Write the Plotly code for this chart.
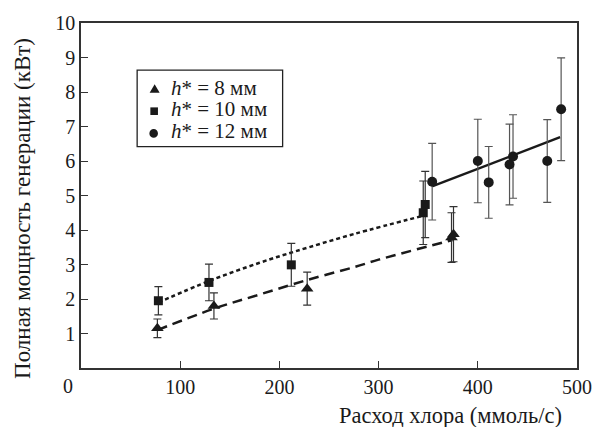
import plotly.graph_objects as go

# Measured points: chlorine flow (mmol/s) vs total generated power (kW)
tri_x = [77, 134, 228, 373.5, 375.5]
tri_y = [1.15, 1.8, 2.3, 3.78, 3.88]
tri_err = [0.27, 0.38, 0.48, 0.72, 0.8]

sq_x = [78, 129, 212, 345, 347]
sq_y = [1.95, 2.48, 2.99, 4.5, 4.74]
sq_err = [0.41, 0.53, 0.62, 0.92, 0.96]

circ_x = [354, 400, 411, 432, 435.5, 470, 484]
circ_y = [5.4, 6.0, 5.38, 5.9, 6.13, 6.0, 7.5]
circ_err = [1.11, 1.21, 1.04, 1.17, 1.21, 1.2, 1.49]

# Fitted trend curves
tri_fit_x = [77, 134, 180, 228, 276, 300, 374.5]
tri_fit_y = [1.1, 1.72, 2.13, 2.55, 2.93, 3.14, 3.71]

sq_fit_x = [78, 129, 180, 216, 276, 346]
sq_fit_y = [1.9, 2.52, 3.05, 3.38, 3.89, 4.42]

circ_fit_x = [354.5, 483]
circ_fit_y = [5.27, 6.69]

x_ticks = [100, 200, 300, 400, 500]
y_ticks = [1, 2, 3, 4, 5, 6, 7, 8, 9, 10]

legend_names = ["<i>h</i>* = 8 мм",
                "<i>h</i>* = 10 мм",
                "<i>h</i>* = 12 мм"]

FONT = "Liberation Serif, Times New Roman, DejaVu Serif, serif"
INK = "#1a1a1a"

fig = go.Figure()

# fit lines
fig.add_trace(go.Scatter(x=tri_fit_x, y=tri_fit_y, mode="lines", showlegend=False,
                         line=dict(color=INK, width=2.5, dash="10px,6px", shape="spline")))
fig.add_trace(go.Scatter(x=sq_fit_x, y=sq_fit_y, mode="lines", showlegend=False,
                         line=dict(color=INK, width=2.5, dash="4px,3px", shape="spline")))
fig.add_trace(go.Scatter(x=circ_fit_x, y=circ_fit_y, mode="lines", showlegend=False,
                         line=dict(color=INK, width=2.5)))

# data points with error bars
fig.add_trace(go.Scatter(x=tri_x, y=tri_y, mode="markers", name=legend_names[0],
                         showlegend=False,
                         marker=dict(symbol="triangle-up", size=11, color=INK),
                         error_y=dict(type="data", array=tri_err, color="#333",
                                      thickness=1.2, width=4)))
fig.add_trace(go.Scatter(x=sq_x, y=sq_y, mode="markers", name=legend_names[1],
                         showlegend=False,
                         marker=dict(symbol="square", size=9, color=INK),
                         error_y=dict(type="data", array=sq_err, color="#333",
                                      thickness=1.2, width=4)))
fig.add_trace(go.Scatter(x=circ_x, y=circ_y, mode="markers", name=legend_names[2],
                         showlegend=False,
                         marker=dict(symbol="circle", size=10, color=INK),
                         error_y=dict(type="data", array=circ_err, color="#555",
                                      thickness=1.2, width=4)))

axis_common = dict(showgrid=False, zeroline=False, showline=True, mirror=True,
                   linecolor="#333", linewidth=1.5, ticks="inside", ticklen=7,
                   tickwidth=1.2, tickcolor="#333",
                   tickfont=dict(family=FONT, size=20, color=INK))

# Compact legend box: frame, key symbols (pixel-sized) and labels
leg_left, leg_right, leg_bottom, leg_top = 0.1132, 0.4065, 0.6416, 0.8632
key_x = 0.1475
row_y = [0.8083, 0.7444, 0.6800]
text_x = 0.1775
text_y = [0.8120, 0.7493, 0.6858]

shapes = [
    dict(type="rect", xref="paper", yref="paper", x0=leg_left, x1=leg_right,
         y0=leg_bottom, y1=leg_top, line=dict(color="#222", width=1.3),
         fillcolor="white", layer="above"),
    dict(type="path", xref="paper", yref="paper", xsizemode="pixel", ysizemode="pixel",
         xanchor=key_x + 0.001, yanchor=row_y[0], path="M -5,-3.5 L 5,-3.5 L 0,5 Z",
         fillcolor=INK, line=dict(width=0)),
    dict(type="rect", xref="paper", yref="paper", xsizemode="pixel", ysizemode="pixel",
         xanchor=key_x, yanchor=row_y[1], x0=-3.8, x1=3.8, y0=-3.8, y1=3.8,
         fillcolor=INK, line=dict(width=0)),
    dict(type="circle", xref="paper", yref="paper", xsizemode="pixel", ysizemode="pixel",
         xanchor=key_x - 0.001, yanchor=row_y[2], x0=-4.3, x1=4.3, y0=-4.3, y1=4.3,
         fillcolor=INK, line=dict(width=0)),
]

annotations = [
    dict(text=name, xref="paper", yref="paper", x=text_x, y=ty,
         xanchor="left", yanchor="middle", showarrow=False,
         font=dict(family=FONT, size=21, color=INK))
    for name, ty in zip(legend_names, text_y)
]
annotations += [
    dict(text="0", xref="paper", yref="paper", x=-0.026, y=-0.052,
         xanchor="center", yanchor="middle", showarrow=False,
         font=dict(family=FONT, size=20, color=INK)),
    dict(text="Расход хлора (ммоль/с)", xref="paper", yref="paper",
         x=0.745, y=-0.138, xanchor="center", yanchor="middle", showarrow=False,
         font=dict(family=FONT, size=22.5, color=INK)),
    dict(text="Полная мощность генерации (кВт)", xref="paper", yref="paper",
         x=-0.1166, y=0.4615, xanchor="center", yanchor="middle", textangle=-90,
         showarrow=False, font=dict(family=FONT, size=23, color=INK)),
]

fig.update_layout(
    width=604, height=427,
    margin=dict(l=81, r=17, t=17, b=59),
    paper_bgcolor="white", plot_bgcolor="white",
    font=dict(family=FONT, size=20, color=INK),
    showlegend=False,
    xaxis=dict(range=[0, 500], tickvals=x_ticks, **axis_common),
    yaxis=dict(range=[0, 10], tickvals=y_ticks, **axis_common),
    shapes=shapes,
    annotations=annotations,
)

fig.write_html("out.html")
